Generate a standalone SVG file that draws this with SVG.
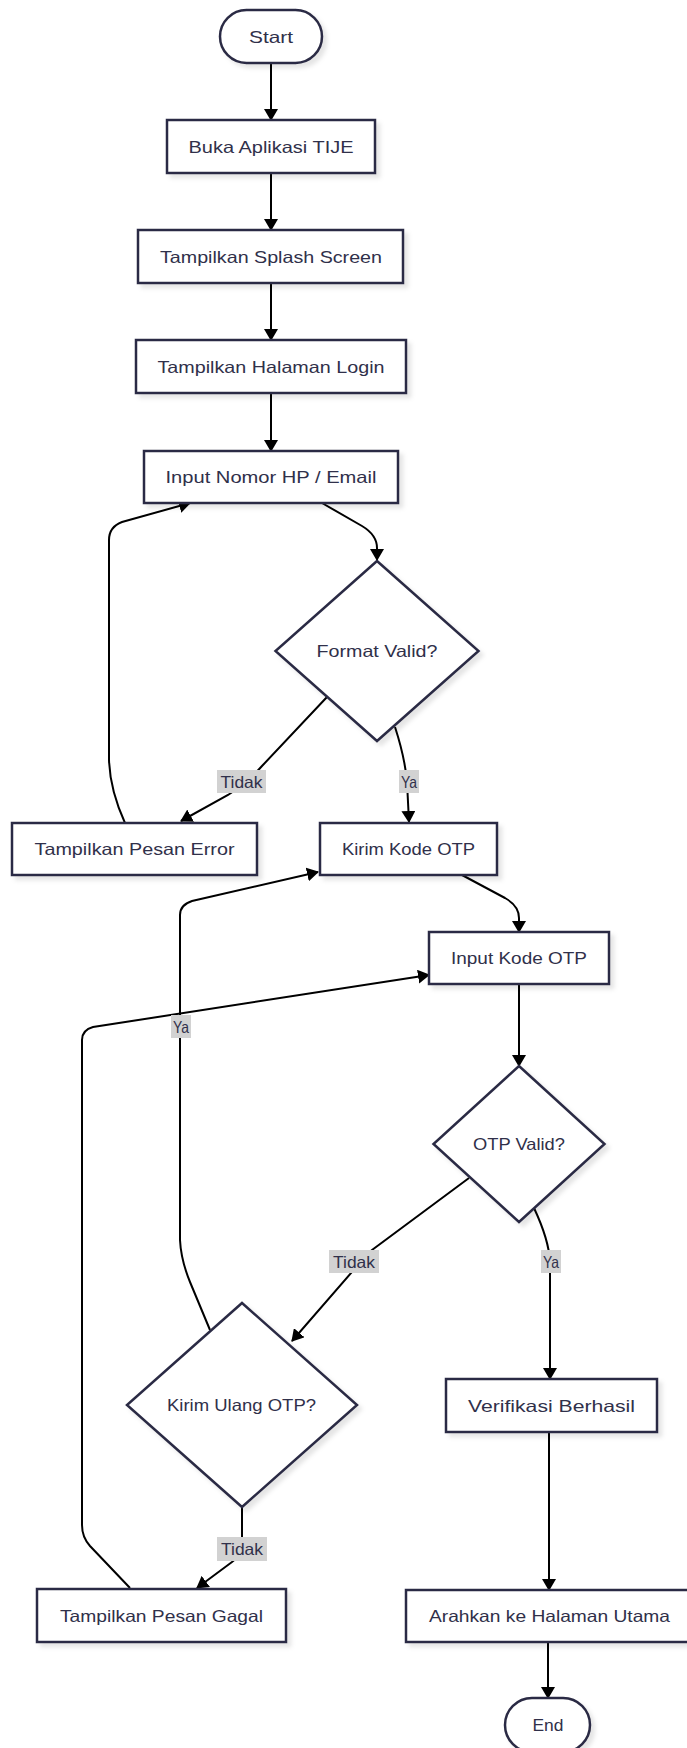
<svg xmlns="http://www.w3.org/2000/svg" width="687" height="1748" viewBox="0 0 687 1748">
  <defs>
    <style>
      .node { fill: #ffffff; stroke: #2c2c44; stroke-width: 2.5; filter: url(#shadow); }
      .label { font-family: "Liberation Sans", Arial, sans-serif; font-size: 16.5px; fill: #30304a; text-anchor: middle; }
      .edge { fill: none; stroke: #000000; stroke-width: 2; marker-end: url(#arrow); }
      .edge-plain { fill: none; stroke: #000000; stroke-width: 2; }
      .edge-label-bg { fill: #d2d2d2; }
      .edge-label { font-family: "Liberation Sans", Arial, sans-serif; font-size: 16.5px; fill: #30304a; text-anchor: middle; }
    </style>
    <filter id="shadow" x="-10%" y="-10%" width="130%" height="140%">
      <feDropShadow dx="4" dy="4" stdDeviation="2" flood-color="#000000" flood-opacity="0.1"/>
    </filter>
    <marker id="arrow" viewBox="0 0 12 14" refX="11" refY="7" markerWidth="12" markerHeight="14" markerUnits="userSpaceOnUse" orient="auto">
      <path d="M0,0 L12,7 L0,14 z" fill="#000000"/>
    </marker>
  </defs>

  <rect width="687" height="1748" fill="#ffffff"/>

  <!-- connectors -->
  <g id="connectors">
    <path class="edge" d="M271,63 L271,120"/>
    <path class="edge" d="M271,173 L271,230"/>
    <path class="edge" d="M271,283 L271,340"/>
    <path class="edge" d="M271,393 L271,451"/>
    <!-- Input Nomor -> Format Valid -->
    <path class="edge" d="M322,503 L362,526 Q377,535 377,548 L377,560"/>
    <!-- Format Valid -> Tampilkan Pesan Error (Tidak) -->
    <path class="edge" d="M327,697 L262,766 Q248,782 228,795 L181,821"/>
    <!-- Format Valid -> Kirim Kode OTP (Ya) -->
    <path class="edge" d="M395,727 Q405,758 407,782 L409,822"/>
    <!-- Tampilkan Pesan Error -> Input Nomor -->
    <path class="edge" d="M125,823 Q110,790 109,760 L109,540 Q109,527 122,522 L190,503"/>
    <!-- Kirim Kode OTP -> Input Kode OTP -->
    <path class="edge" d="M462,875 L505,898 Q519,906 519,918 L519,932"/>
    <!-- Input Kode OTP -> OTP Valid -->
    <path class="edge" d="M519,984 L519,1066"/>
    <!-- OTP Valid -> Kirim Ulang OTP (Tidak) -->
    <path class="edge" d="M469,1178 L372,1250 Q360,1260 352,1272 L292,1341"/>
    <!-- OTP Valid -> Verifikasi Berhasil (Ya) -->
    <path class="edge" d="M534,1208 Q549,1240 550,1262 L550,1379"/>
    <!-- Kirim Ulang OTP -> Kirim Kode OTP (Ya) -->
    <path class="edge" d="M210,1330 L190,1282 Q181,1260 180,1240 L180,915 Q180,905 192,901 L318,872"/>
    <!-- Kirim Ulang OTP -> Tampilkan Pesan Gagal (Tidak) -->
    <path class="edge" d="M242,1507 L242,1545 Q242,1555 232,1562 L197,1588"/>
    <!-- Tampilkan Pesan Gagal -> Input Kode OTP -->
    <path class="edge" d="M130,1588 L90,1546 Q82,1537 82,1525 L82,1040 Q82,1030 93,1027 L429,975"/>
    <!-- Verifikasi Berhasil -> Arahkan -->
    <path class="edge" d="M549,1432 L549,1590"/>
    <!-- Arahkan -> End -->
    <path class="edge" d="M548,1642 L548,1698"/>

    <!-- edge labels -->
    <g id="label-format-tidak">
      <rect class="edge-label-bg" x="217" y="770" width="49" height="23"/>
      <text class="edge-label" x="241.5" y="787.5" textLength="42" lengthAdjust="spacingAndGlyphs">Tidak</text>
    </g>
    <g id="label-format-ya">
      <rect class="edge-label-bg" x="399" y="770" width="20" height="23"/>
      <text class="edge-label" x="409" y="787.5" textLength="16" lengthAdjust="spacingAndGlyphs">Ya</text>
    </g>
    <g id="label-ulang-ya">
      <rect class="edge-label-bg" x="171" y="1015" width="20" height="23"/>
      <text class="edge-label" x="181" y="1032.5" textLength="16" lengthAdjust="spacingAndGlyphs">Ya</text>
    </g>
    <g id="label-otp-tidak">
      <rect class="edge-label-bg" x="329" y="1250" width="50" height="23"/>
      <text class="edge-label" x="354" y="1267.5" textLength="42" lengthAdjust="spacingAndGlyphs">Tidak</text>
    </g>
    <g id="label-otp-ya">
      <rect class="edge-label-bg" x="541" y="1250" width="20" height="23"/>
      <text class="edge-label" x="551" y="1267.5" textLength="16" lengthAdjust="spacingAndGlyphs">Ya</text>
    </g>
    <g id="label-ulang-tidak">
      <rect class="edge-label-bg" x="217" y="1537" width="50" height="24"/>
      <text class="edge-label" x="242" y="1555" textLength="42" lengthAdjust="spacingAndGlyphs">Tidak</text>
    </g>
  </g>

  <!-- nodes -->
  <g id="start">
    <rect class="node" x="220" y="10" width="102" height="53" rx="26.5" ry="26.5"/>
    <text class="label" x="271" y="42.5" textLength="44" lengthAdjust="spacingAndGlyphs">Start</text>
  </g>
  <g id="buka-aplikasi">
    <rect class="node" x="167" y="120" width="208" height="53"/>
    <text class="label" x="271" y="152.5" textLength="165" lengthAdjust="spacingAndGlyphs">Buka Aplikasi TIJE</text>
  </g>
  <g id="splash-screen">
    <rect class="node" x="138" y="230" width="265" height="53"/>
    <text class="label" x="271" y="262.5" textLength="222" lengthAdjust="spacingAndGlyphs">Tampilkan Splash Screen</text>
  </g>
  <g id="halaman-login">
    <rect class="node" x="136" y="340" width="270" height="53"/>
    <text class="label" x="271" y="372.5" textLength="227" lengthAdjust="spacingAndGlyphs">Tampilkan Halaman Login</text>
  </g>
  <g id="input-nomor">
    <rect class="node" x="144" y="451" width="254" height="52"/>
    <text class="label" x="271" y="483" textLength="211" lengthAdjust="spacingAndGlyphs">Input Nomor HP / Email</text>
  </g>
  <g id="format-valid">
    <polygon class="node" points="377,561 478.5,651 377,741 275.5,651"/>
    <text class="label" x="377" y="657" textLength="121" lengthAdjust="spacingAndGlyphs">Format Valid?</text>
  </g>
  <g id="pesan-error">
    <rect class="node" x="12" y="823" width="245" height="52"/>
    <text class="label" x="134.5" y="855" textLength="200" lengthAdjust="spacingAndGlyphs">Tampilkan Pesan Error</text>
  </g>
  <g id="kirim-kode">
    <rect class="node" x="320" y="823" width="177" height="52"/>
    <text class="label" x="408.5" y="855" textLength="133" lengthAdjust="spacingAndGlyphs">Kirim Kode OTP</text>
  </g>
  <g id="input-kode">
    <rect class="node" x="429" y="932" width="180" height="52"/>
    <text class="label" x="519" y="964" textLength="136" lengthAdjust="spacingAndGlyphs">Input Kode OTP</text>
  </g>
  <g id="otp-valid">
    <polygon class="node" points="519,1066 604.5,1144 519,1222 433.5,1144"/>
    <text class="label" x="519" y="1150" textLength="92" lengthAdjust="spacingAndGlyphs">OTP Valid?</text>
  </g>
  <g id="kirim-ulang">
    <polygon class="node" points="242,1303 357,1405 242,1507 127,1405"/>
    <text class="label" x="241.5" y="1411" textLength="149" lengthAdjust="spacingAndGlyphs">Kirim Ulang OTP?</text>
  </g>
  <g id="verifikasi-berhasil">
    <rect class="node" x="446" y="1379" width="211" height="53"/>
    <text class="label" x="551.5" y="1411.5" textLength="167" lengthAdjust="spacingAndGlyphs">Verifikasi Berhasil</text>
  </g>
  <g id="pesan-gagal">
    <rect class="node" x="37" y="1589" width="249" height="53"/>
    <text class="label" x="161.5" y="1621.5" textLength="203" lengthAdjust="spacingAndGlyphs">Tampilkan Pesan Gagal</text>
  </g>
  <g id="halaman-utama">
    <rect class="node" x="406" y="1590" width="286" height="52"/>
    <text class="label" x="549.5" y="1622" textLength="241" lengthAdjust="spacingAndGlyphs">Arahkan ke Halaman Utama</text>
  </g>
  <g id="end">
    <rect class="node" x="505" y="1698" width="85" height="54" rx="27" ry="27"/>
    <text class="label" x="548" y="1731" textLength="31" lengthAdjust="spacingAndGlyphs">End</text>
  </g>
</svg>
